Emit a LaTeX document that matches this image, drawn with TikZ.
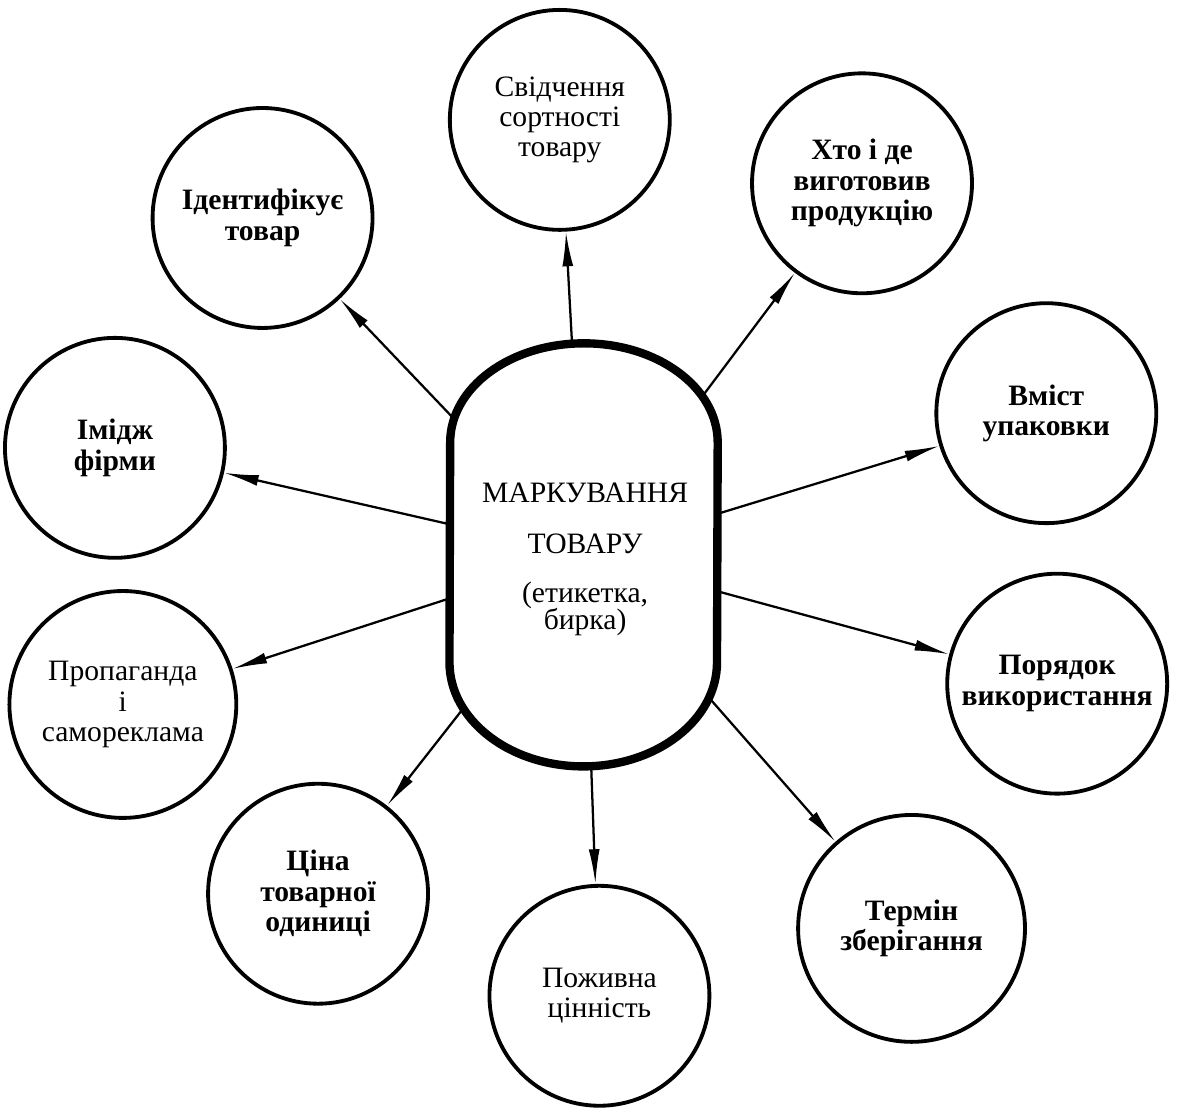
\documentclass[tikz,border=0pt]{standalone}
\usepackage{fontspec}
\setmainfont{Liberation Serif}
\usetikzlibrary{arrows.meta}

\begin{document}
\begin{tikzpicture}[
  topic/.style = {draw, circle, line width=2.2pt, minimum size=4.44cm, inner sep=0pt, align=center, font=\fontsize{17}{17.5}\selectfont},
  strong/.style = {topic, font=\fontsize{17}{17.5}\selectfont\bfseries},
  link/.style = {line width=1.3pt, -{Latex[length=7mm, width=2.2mm]}},
  outline/.style = {line width=4.8pt, fill=white}
]
  \useasboundingbox (-11.78,-11.28) rectangle (12.16,11.2);

  % Label area in the middle
  \node[minimum width=5.4cm, minimum height=8.54cm] (mark) at (0,0) {};

  % Properties round the label
  \node[topic]  (grade)   at (-0.48, 8.78) {Свідчення\\сортності\\товару};
  \node[strong] (ident)   at (-6.48, 6.80) {Ідентифікує\\товар};
  \node[strong] (maker)   at (5.62, 7.50)  {Хто і де\\виготовив\\продукцію};
  \node[strong] (content) at (9.34, 2.86)  {Вміст\\упаковки};
  \node[strong] (image)   at (-9.46, 2.16) {Імідж\\фірми};
  \node[topic, minimum size=4.58cm] (promo) at (-9.30, -3.02) {Пропаганда\\і\\самореклама};
  \node[strong] (usage)   at (9.56, -2.60) {Порядок\\використання};
  \node[strong] (price)   at (-5.36, -6.84) {Ціна\\товарної\\одиниці};
  \node[topic]  (food)    at (0.32, -8.90) {Поживна\\цінність};
  \node[strong, minimum size=4.58cm] (shelf) at (6.62, -7.54) {Термін\\зберігання};

  % Arrows from the label
  \foreach \n in {grade, ident, maker, content, image, promo, usage, price, food, shelf}
    \draw[link] (mark.center) -- (\n);

  % Label outline
  \draw[outline] ([yshift=2.27cm]mark.east)
    arc[start angle=0, end angle=180, x radius=2.7cm, y radius=2.0cm]
    -- ([yshift=-2.17cm]mark.west)
    arc[start angle=180, end angle=360, x radius=2.7cm, y radius=2.1cm] -- cycle;

  \node[align=center, font=\fontsize{17}{16}\selectfont] (marktext) at (0.03,-0.1)
    {МАРКУВАННЯ\\[13pt]ТОВАРУ\\[12pt](етикетка,\\бирка)};

\end{tikzpicture}
\end{document}
